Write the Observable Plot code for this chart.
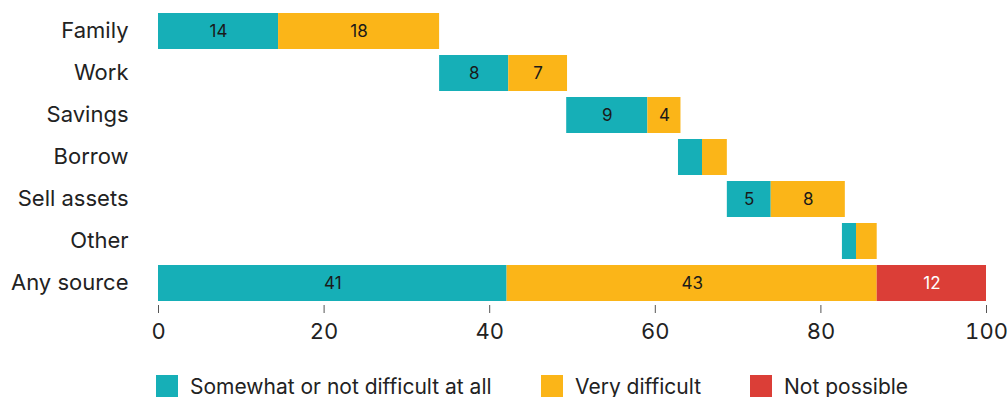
<!DOCTYPE html>
<html><head><meta charset="utf-8">
<script src="https://cdn.jsdelivr.net/npm/d3@7"></script>
<script src="https://cdn.jsdelivr.net/npm/@observablehq/plot@0.6"></script>
<style>
body{margin:0;background:#fff;font-family:Inter, sans-serif;}
#wrap{position:relative;width:1007px;height:397px;overflow:hidden}
#legend{position:absolute;top:375px;left:0;width:1007px;height:22px;}
.item{position:absolute;top:0;display:flex;align-items:center;font-size:21px;line-height:1;color:#222;white-space:nowrap;height:22px}
.sw{width:22px;height:22px;margin-right:12px;flex:none}
</style></head><body><div id="wrap"><div id="chart"></div><div id="legend"></div></div>
<script>
const categories = ["Family","Work","Savings","Borrow","Sell assets","Other","Any source"];
const seriesNames = ["Somewhat or not difficult at all","Very difficult","Not possible"];
const seriesColors = ["#16AFB7","#FBB518","#DB3E37"];
const starts = [0, 33.95, 49.3, 62.8, 68.7, 82.6, 0];
const somewhat = [14.5, 8.35, 9.8, 2.9, 5.3, 1.7, 42.1];
const veryDifficult = [19.45, 7.1, 4.0, 3.0, 8.95, 2.5, 44.7];
const notPossible = [0, 0, 0, 0, 0, 0, 13.2];
const somewhatLabels = ["14","8","9","","5","","41"];
const veryLabels = ["18","7","4","","8","","43"];
const notPossibleLabels = ["","","","","","","12"];
const xTicks = [0, 20, 40, 60, 80, 100];

const seriesValues = [somewhat, veryDifficult, notPossible];
const seriesLabels = [somewhatLabels, veryLabels, notPossibleLabels];
const rows = [];
categories.forEach((cat, i) => {
  let acc = starts[i];
  seriesNames.forEach((s, j) => {
    const v = seriesValues[j][i];
    if (v > 0) rows.push({cat, series: s, x1: acc, x2: acc + v, label: seriesLabels[j][i]});
    acc += v;
  });
});

const chart = Plot.plot({
  width: 1007,
  height: 345,
  marginLeft: 158,
  marginRight: 21,
  marginTop: 10,
  marginBottom: 40,
  style: {fontFamily: "Inter, sans-serif", fontSize: "22px", color: "#222", background: "white"},
  x: {domain: [0, 100]},
  y: {domain: categories, paddingInner: 0.133, paddingOuter: 0.02},
  color: {domain: seriesNames, range: seriesColors},
  marks: [
    Plot.barX(rows, {x1: "x1", x2: "x2", y: "cat", fill: "series"}),
    Plot.text(rows.filter(d => d.label), {
      x: d => (d.x1 + d.x2) / 2, y: "cat", text: "label", fontSize: 17,
      fill: d => d.series === "Not possible" ? "white" : "#1a1a1a"
    }),
    Plot.axisY({tickSize: 0, tickPadding: 30, fontSize: 22, dy: -1, label: null}),
    Plot.axisX({ticks: xTicks, tickSize: 8, tickPadding: 10, stroke: "#555", fill: "#222", fontSize: 22, label: null})
  ]
});
document.getElementById("chart").appendChild(chart);

const legendLeft = [156, 541, 750];
const legend = document.getElementById("legend");
seriesNames.forEach((name, i) => {
  const item = document.createElement("div");
  item.className = "item";
  item.style.left = legendLeft[i] + "px";
  const sw = document.createElement("span");
  sw.className = "sw";
  sw.style.background = seriesColors[i];
  const t = document.createElement("span");
  t.textContent = name;
  item.appendChild(sw); item.appendChild(t);
  legend.appendChild(item);
});
</script>
</body></html>
